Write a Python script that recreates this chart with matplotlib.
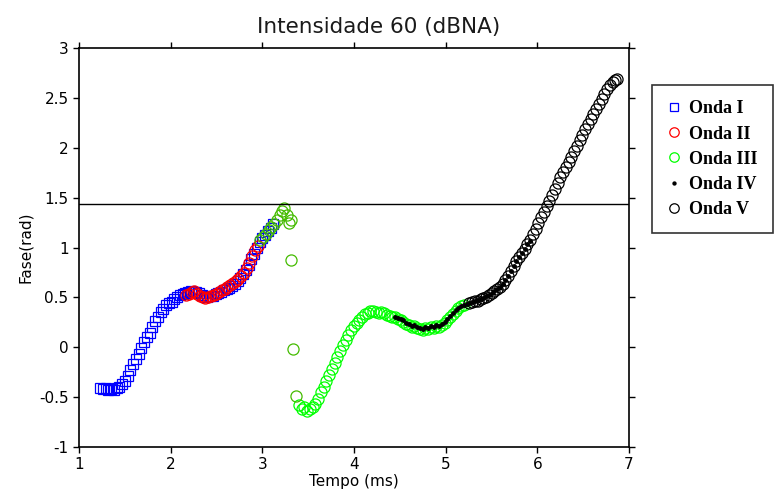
import numpy as np
import matplotlib
matplotlib.use('Agg')
import matplotlib.pyplot as plt

# |~~~~~~~~~~~~| Daten |~~~~~~~~~~~~|
onda1_t = [1.23, 1.26, 1.29, 1.32, 1.35, 1.38, 1.41, 1.44, 1.47, 1.50, 1.53, 1.56, 1.59, 1.62, 1.65, 1.68,
           1.71, 1.74, 1.77, 1.80, 1.83, 1.86, 1.89, 1.92, 1.95, 1.98, 2.01, 2.04, 2.07, 2.10, 2.13, 2.16,
           2.19, 2.22, 2.25, 2.28, 2.31, 2.34, 2.37, 2.40, 2.43, 2.46, 2.49, 2.52, 2.55, 2.58, 2.61, 2.64,
           2.67, 2.70, 2.73, 2.76, 2.79, 2.82, 2.85, 2.88, 2.91, 2.94, 2.97, 3.00, 3.03, 3.06, 3.09, 3.12]
onda1_f = [-0.41, -0.42, -0.41, -0.43, -0.42, -0.43, -0.41, -0.40, -0.37, -0.34, -0.29, -0.23, -0.17, -0.12,
           -0.07, -0.01, 0.05, 0.10, 0.14, 0.20, 0.26, 0.30, 0.35, 0.38, 0.42, 0.44, 0.45, 0.48, 0.50, 0.52,
           0.53, 0.54, 0.55, 0.56, 0.55, 0.55, 0.54, 0.52, 0.50, 0.50, 0.51, 0.51, 0.53, 0.54, 0.55, 0.57,
           0.58, 0.59, 0.61, 0.63, 0.66, 0.69, 0.73, 0.77, 0.82, 0.88, 0.93, 1.00, 1.06, 1.10, 1.13, 1.17,
           1.20, 1.24]

onda2_t = [2.17, 2.20, 2.23, 2.26, 2.29, 2.32, 2.35, 2.38, 2.41, 2.44, 2.47, 2.50, 2.53, 2.56, 2.59, 2.62,
           2.65, 2.68, 2.71, 2.74, 2.77, 2.80, 2.83, 2.86, 2.89, 2.92, 2.95]
onda2_f = [0.52, 0.53, 0.55, 0.56, 0.53, 0.51, 0.50, 0.49, 0.50, 0.51, 0.52, 0.53, 0.55, 0.57, 0.58, 0.60,
           0.62, 0.64, 0.66, 0.68, 0.71, 0.74, 0.79, 0.84, 0.91, 0.97, 1.02]

onda3_t = [2.98, 3.01, 3.04, 3.07, 3.10, 3.13, 3.16, 3.19, 3.22, 3.24, 3.27, 3.29, 3.31, 3.31, 3.34, 3.37,
           3.40, 3.43, 3.46, 3.49, 3.52, 3.55, 3.58, 3.61, 3.64, 3.67, 3.70, 3.73, 3.76, 3.79, 3.82, 3.85,
           3.88, 3.91, 3.94, 3.97, 4.00, 4.03, 4.06, 4.09, 4.12, 4.15, 4.18, 4.21, 4.24, 4.27, 4.30, 4.33,
           4.36, 4.39, 4.42, 4.45, 4.48, 4.51, 4.54, 4.57, 4.60, 4.63, 4.66, 4.69, 4.72, 4.75, 4.78, 4.81,
           4.84, 4.87, 4.90, 4.93, 4.96, 4.99, 5.02, 5.05, 5.08, 5.11, 5.14, 5.17, 5.20]
onda3_f = [1.08, 1.11, 1.14, 1.18, 1.21, 1.24, 1.28, 1.33, 1.37, 1.40, 1.33, 1.25, 1.28, 0.87, -0.02, -0.49,
           -0.58, -0.62, -0.60, -0.64, -0.62, -0.60, -0.57, -0.52, -0.45, -0.40, -0.34, -0.28, -0.22, -0.16,
           -0.10, -0.04, 0.02, 0.07, 0.12, 0.17, 0.21, 0.24, 0.27, 0.30, 0.33, 0.34, 0.36, 0.36, 0.35, 0.34,
           0.35, 0.34, 0.32, 0.31, 0.30, 0.30, 0.28, 0.27, 0.25, 0.23, 0.22, 0.20, 0.21, 0.19, 0.18, 0.17,
           0.19, 0.18, 0.20, 0.19, 0.21, 0.20, 0.22, 0.24, 0.27, 0.30, 0.33, 0.36, 0.39, 0.41, 0.42]

onda4_t = [4.45, 4.48, 4.51, 4.54, 4.57, 4.60, 4.63, 4.66, 4.69, 4.72, 4.75, 4.78, 4.81, 4.84, 4.87, 4.90,
           4.93, 4.96, 4.99, 5.02, 5.05, 5.08, 5.11, 5.14, 5.17, 5.20, 5.23, 5.26, 5.29, 5.32, 5.35, 5.38,
           5.41, 5.44, 5.47, 5.50, 5.53, 5.56, 5.59, 5.62, 5.65, 5.68, 5.71, 5.74, 5.77, 5.80, 5.83, 5.86,
           5.89, 5.92]
onda4_f = [0.30, 0.29, 0.28, 0.27, 0.24, 0.23, 0.21, 0.22, 0.20, 0.19, 0.18, 0.20, 0.19, 0.21, 0.20, 0.22,
           0.21, 0.23, 0.25, 0.28, 0.31, 0.34, 0.37, 0.39, 0.41, 0.42, 0.43, 0.44, 0.45, 0.46, 0.47, 0.48,
           0.49, 0.51, 0.52, 0.54, 0.56, 0.58, 0.60, 0.63, 0.67, 0.71, 0.76, 0.81, 0.86, 0.90, 0.94, 0.99,
           1.04, 1.07]

onda5_t = [5.26, 5.29, 5.32, 5.35, 5.38, 5.41, 5.44, 5.47, 5.50, 5.53, 5.56, 5.59, 5.62, 5.65, 5.68, 5.71,
           5.74, 5.77, 5.80, 5.83, 5.86, 5.89, 5.92, 5.95, 5.98, 6.01, 6.04, 6.07, 6.10, 6.13, 6.16, 6.19,
           6.22, 6.25, 6.28, 6.31, 6.34, 6.37, 6.40, 6.43, 6.46, 6.49, 6.52, 6.55, 6.58, 6.61, 6.64, 6.67,
           6.70, 6.73, 6.76, 6.79, 6.82, 6.85, 6.87]
onda5_f = [0.44, 0.45, 0.46, 0.46, 0.48, 0.49, 0.50, 0.52, 0.54, 0.56, 0.58, 0.60, 0.63, 0.67, 0.71, 0.76,
           0.81, 0.86, 0.90, 0.94, 0.99, 1.04, 1.08, 1.14, 1.19, 1.25, 1.31, 1.36, 1.42, 1.47, 1.53, 1.59,
           1.65, 1.71, 1.76, 1.81, 1.86, 1.91, 1.97, 2.02, 2.08, 2.13, 2.19, 2.24, 2.29, 2.34, 2.39, 2.44,
           2.49, 2.54, 2.59, 2.63, 2.66, 2.68, 2.69]

limiar = 1.44
titulo = 'Intensidade 60 (dBNA)'
x_ticks = [1, 2, 3, 4, 5, 6, 7]
y_ticks = [-1, -0.5, 0, 0.5, 1, 1.5, 2, 2.5, 3]
y_labels = ['-1', '-0.5', '0', '0.5', '1', '1.5', '2', '2.5', '3']

# |~~~~~~~~~~~~| Plot |~~~~~~~~~~~~|
fig = plt.figure(figsize=(7.78, 4.97), dpi=100)
ax = fig.add_axes([0.1015, 0.1006, 0.707, 0.8028])

ax.plot(onda1_t, onda1_f, 's', mfc='none', mec='#0000ff', ms=7, mew=0.9, label='Onda I')
ax.plot(onda2_t, onda2_f, 'o', mfc='none', mec='#ff0000', ms=8, mew=0.9, label='Onda II')

# Onda III: vorderer Teil ueberlagert (dunkleres Gruen)
t3 = np.array(onda3_t)
f3 = np.array(onda3_f)
vorne = t3 < 3.39
ax.plot(t3[~vorne], f3[~vorne], 'o', mfc='none', mec='#00ff00', ms=8, mew=0.9, label='Onda III')
ax.plot(t3[vorne], f3[vorne], 'o', mfc='none', mec='#44bb00', ms=8, mew=0.9)

ax.plot(onda5_t, onda5_f, 'o', mfc='none', mec='black', ms=8, mew=0.9, label='Onda V')
ax.plot(onda4_t, onda4_f, '.', color='black', ms=5, label='Onda IV')

ax.axhline(limiar, color='black', linewidth=1.0)

ax.set_xlim(1, 7)
ax.set_ylim(-1, 3)
ax.set_xticks(x_ticks)
ax.set_yticks(y_ticks)
ax.set_yticklabels(y_labels)
ax.tick_params(direction='out', length=4, width=1, top=True, right=True, labelsize=11)
for s in ax.spines.values():
    s.set_linewidth(1.2)

ax.set_xlabel('Tempo (ms)', fontsize=11, labelpad=1)
ax.set_ylabel('Fase(rad)', fontsize=11, labelpad=4)
fig.text(0.487, 0.946, titulo, ha='center', va='center', fontsize=15.5, color='#1a1a1a')

# Legende in der Reihenfolge I..V
h, l = ax.get_legend_handles_labels()
ordnung = ['Onda I', 'Onda II', 'Onda III', 'Onda IV', 'Onda V']
hh = [h[l.index(n)] for n in ordnung]
leg = ax.legend(hh, ordnung, loc='upper left', bbox_to_anchor=(1.042, 0.907), borderaxespad=0,
                prop={'family': 'Liberation Serif', 'weight': 'bold', 'size': 13},
                frameon=True, fancybox=False, edgecolor='black', handlelength=0.7,
                handletextpad=0.5, labelspacing=0.45, borderpad=0.85, markerscale=0.85)
leg.get_frame().set_linewidth(1.2)

fig.savefig('out.png', dpi=100)
